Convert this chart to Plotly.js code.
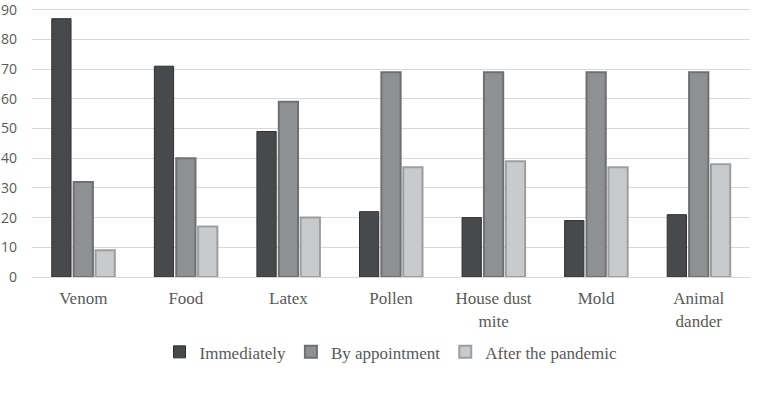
<!DOCTYPE html>
<html>
<head>
<meta charset="utf-8">
<script src="https://cdn.plot.ly/plotly-3.0.1.min.js"></script>
<style>html,body{margin:0;padding:0;background:#fff;}#chart{width:759px;height:400px;}</style>
</head>
<body>
<div id="chart"></div>
<script>
const categories = ["Venom", "Food", "Latex", "Pollen", "House dust<br>mite", "Mold", "Animal<br>dander"];
const immediately = [87, 71, 49, 22, 20, 19, 21];
const byAppointment = [32, 40, 59, 69, 69, 69, 69];
const afterPandemic = [9, 17, 20, 37, 39, 37, 38];
const seriesNames = ["Immediately", "By appointment", "After the pandemic"];

const serif = "Liberation Serif, DejaVu Serif, serif";
const traces = [
  {name: seriesNames[0], y: immediately, fill: "#48494b", line: "#2e2f31", w: 1},
  {name: seriesNames[1], y: byAppointment, fill: "#8f9092", line: "#6f7072", w: 2},
  {name: seriesNames[2], y: afterPandemic, fill: "#c9cacc", line: "#9d9ea0", w: 2}
].map(s => ({
  type: "bar", x: categories, y: s.y, name: s.name,
  marker: {color: s.fill, line: {color: s.line, width: s.w}},
  hoverinfo: "skip"
}));

const layout = {
  width: 759, height: 400,
  margin: {l: 32, r: 9, t: 8, b: 123, autoexpand: false},
  paper_bgcolor: "#fff", plot_bgcolor: "#fff",
  barmode: "group", bargap: 0.36, bargroupgap: 0.12,
  showlegend: true,
  legend: {orientation: "h", x: 0.5, xanchor: "center", y: -0.28, yanchor: "middle",
    font: {family: serif, size: 17, color: "#595959"}, traceorder: "normal", itemwidth: 30},
  xaxis: {tickfont: {family: serif, size: 17, color: "#595959"}, showgrid: false, automargin: false,
    showline: true, linecolor: "#d9d9d9", linewidth: 1, ticks: "", zeroline: false, ticklabelstandoff: 6},
  yaxis: {range: [0, 90.6], dtick: 10, tick0: 0, showgrid: true, gridcolor: "#d9d9d9", gridwidth: 1,
    zeroline: false, showline: false, ticks: "", automargin: false, ticklabelstandoff: 14,
    ticklabeloverflow: "allow",
    tickfont: {family: "Open Sans, Liberation Sans, sans-serif", size: 14, color: "#595959"}}
};
Plotly.newPlot("chart", traces, layout, {displayModeBar: false, staticPlot: true});
</script>
</body>
</html>
